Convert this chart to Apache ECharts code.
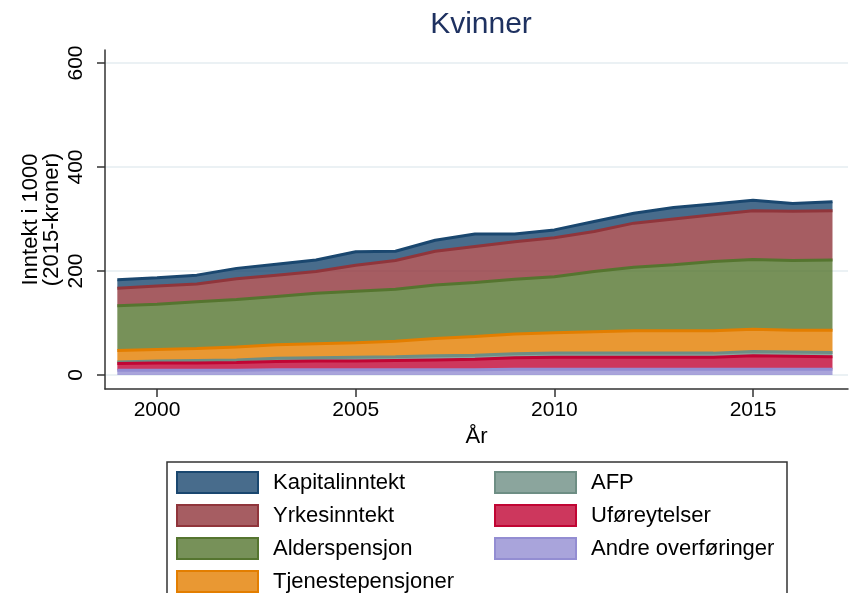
<!DOCTYPE html>
<html>
<head>
<meta charset="utf-8">
<title>Kvinner</title>
<script src="https://cdn.jsdelivr.net/npm/echarts@6/dist/echarts.min.js"></script>
<style>
  html, body { margin: 0; padding: 0; background: #fff; }
  #chart { width: 866px; height: 593px; }
</style>
</head>
<body>
<div id="chart"></div>
<script>
(function () {
  "use strict";

  // ---------------- data (1000 kr, 2015-kroner) ----------------
  var years = [1999, 2000, 2001, 2002, 2003, 2004, 2005, 2006, 2007, 2008,
               2009, 2010, 2011, 2012, 2013, 2014, 2015, 2016, 2017];
  var andre    = [9, 9, 9, 9, 10, 10, 10, 10, 10, 10, 11, 11, 11, 11, 11, 11, 11, 11, 11];
  var ufore    = [13, 14, 14, 15, 16, 17, 17, 18, 19, 20, 22, 23, 23, 23, 23, 23, 26, 25, 24];
  var afp      = [3, 4, 5, 5, 6, 6, 7, 7, 8, 8, 8, 8, 8, 8, 8, 8, 8, 8, 8];
  var tjeneste = [22, 22, 23, 25, 26, 27, 28, 30, 33, 36, 38, 39, 41, 43, 43, 43, 43, 42, 43];
  var alders   = [86, 87, 90, 91, 93, 97, 99, 100, 103, 104, 105, 108, 116, 122, 127, 133, 134, 134, 135];
  var yrkes    = [34, 35, 34, 40, 41, 42, 50, 55, 65, 69, 72, 75, 77, 85, 88, 90, 94, 95, 95];
  var kapital  = [16, 16, 17, 20, 21, 22, 26, 18, 21, 24, 15, 15, 19, 19, 22, 21, 20, 15, 17];

  var yTicks = [0, 200, 400, 600];
  var xTicks = [2000, 2005, 2010, 2015];

  // bottom -> top of the stack
  var layers = [
    { name: "Andre overføringer", values: andre,    rgb: [147, 141, 210] },
    { name: "Uføreytelser",       values: ufore,    rgb: [193, 5, 52] },
    { name: "AFP",                values: afp,      rgb: [110, 142, 132] },
    { name: "Tjenestepensjoner",  values: tjeneste, rgb: [227, 126, 0] },
    { name: "Alderspensjon",      values: alders,   rgb: [85, 117, 47] },
    { name: "Yrkesinntekt",       values: yrkes,    rgb: [144, 53, 59] },
    { name: "Kapitalinntekt",     values: kapital,  rgb: [26, 71, 111] }
  ];

  // legend is filled row by row: left column / right column
  var legendOrder = ["Kapitalinntekt", "AFP", "Yrkesinntekt", "Uføreytelser",
                     "Alderspensjon", "Andre overføringer", "Tjenestepensjoner"];
  var rightCol = { "AFP": 1, "Uføreytelser": 1, "Andre overføringer": 1 };

  // ---------------- helpers ----------------
  function rgb(c) { return "rgb(" + c.join(",") + ")"; }
  function rgba(c, a) { return "rgba(" + c.join(",") + "," + a + ")"; }
  function byName(n) {
    for (var i = 0; i < layers.length; i++) if (layers[i].name === n) return layers[i];
    return null;
  }

  var FONT = "'Liberation Sans', Arial, sans-serif";

  // value first, year second: the stack then sums the value dimension,
  // not the (numeric) year on the x axis
  var series = layers.map(function (l, i) {
    return {
      name: l.name,
      type: "line",
      stack: "total",
      dimensions: ["v", "year"],
      encode: { x: "year", y: "v" },
      data: years.map(function (y, k) { return [l.values[k], y]; }),
      showSymbol: false,
      symbol: "none",
      z: 20 - i,
      lineStyle: { color: rgb(l.rgb), width: 3 },
      itemStyle: { color: rgb(l.rgb) },
      areaStyle: { color: rgba(l.rgb, 0.8), opacity: 1 },
      emphasis: { disabled: true },
      animation: false
    };
  });

  var legendData = legendOrder.map(function (n) {
    var l = byName(n);
    return {
      name: n,
      icon: "rect",
      itemStyle: { color: rgba(l.rgb, 0.8), borderColor: rgb(l.rgb), borderWidth: 2 },
      textStyle: { width: rightCol[n] ? 185 : 211 }
    };
  });

  var chart = echarts.init(document.getElementById("chart"), null, { renderer: "canvas" });
  chart.setOption({
    backgroundColor: "#ffffff",
    animation: false,
    title: {
      text: "Kvinner",
      left: 476,
      top: 5,
      textAlign: "center",
      textStyle: { fontFamily: FONT, fontSize: 30, fontWeight: "normal", color: "#1e3160" }
    },
    grid: { left: 105, right: 18, top: 50, bottom: 204, containLabel: false },
    xAxis: {
      type: "value",
      min: 1998.69,
      max: 2017.39,
      name: "År",
      nameLocation: "middle",
      nameGap: 36,
      nameTextStyle: { fontFamily: FONT, fontSize: 22, color: "#000" },
      axisLine: { show: true, onZero: false, lineStyle: { color: "#333", width: 1.5 } },
      axisTick: { show: true, length: 8, customValues: xTicks, lineStyle: { color: "#333", width: 1.5 } },
      axisLabel: {
        customValues: xTicks, margin: 11, fontFamily: FONT, fontSize: 21, color: "#000",
        formatter: function (v) { return String(v); }
      },
      splitLine: { show: false }
    },
    yAxis: {
      type: "value",
      min: -27,
      max: 625,
      name: "Inntekt i 1000\n(2015-kroner)",
      nameLocation: "middle",
      nameRotate: 90,
      nameGap: 43,
      nameMoveOverlap: false,
      nameTextStyle: { fontFamily: FONT, fontSize: 22, lineHeight: 21, color: "#000" },
      axisLine: { show: true, onZero: false, lineStyle: { color: "#333", width: 1.5 } },
      axisTick: { show: true, length: 8, customValues: yTicks, lineStyle: { color: "#333", width: 1.5 } },
      axisLabel: {
        customValues: yTicks, rotate: 90, margin: 18, fontFamily: FONT, fontSize: 21, color: "#000",
        formatter: function (v) { return String(v); }
      },
      splitLine: { show: true, customValues: yTicks, lineStyle: { color: "#e4edf0", width: 1.5 } }
    },
    legend: {
      data: legendData,
      orient: "horizontal",
      left: 167,
      top: 462,
      width: 605,
      padding: [9, 11, 9, 9],
      itemWidth: 81,
      itemHeight: 21,
      itemGap: 10,
      borderColor: "#333",
      borderWidth: 1.5,
      selectedMode: false,
      textStyle: {
        fontFamily: FONT, fontSize: 22, color: "#000", lineHeight: 21,
        padding: [0, 0, 0, 10]
      }
    },
    series: series
  });
})();
</script>
</body>
</html>
